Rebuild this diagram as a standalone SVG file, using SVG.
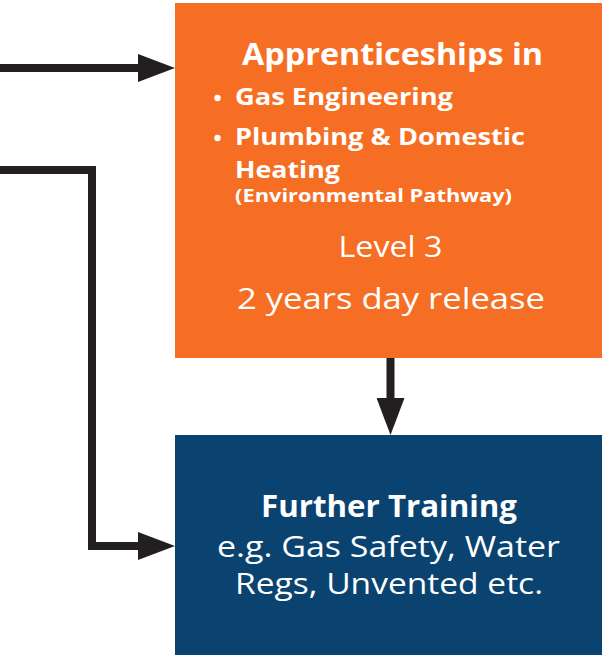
<svg xmlns="http://www.w3.org/2000/svg" width="602" height="655" viewBox="0 0 602 655">
<style>
.conn{fill:none;stroke:#231F20;stroke-width:8;stroke-linejoin:miter}
.t{font-family:"Open Sans","Liberation Sans",sans-serif;fill:#FFFFFF;text-anchor:middle}
.tl{font-family:"Open Sans","Liberation Sans",sans-serif;fill:#FFFFFF}
.b{font-weight:700}
.r{font-weight:400}
</style>
<defs>
<marker id="ah" viewBox="0 0 37 28" refX="2" refY="14" markerWidth="37" markerHeight="28" markerUnits="userSpaceOnUse" orient="auto">
<path d="M0,0 L37,14 L0,28 Z" fill="#231F20"/>
</marker>
</defs>
<g id="apprenticeships">
<rect x="175" y="3" width="427" height="355" fill="#F56E23"/>
<text class="t b" x="392.5" y="65" font-size="30" textLength="301" lengthAdjust="spacingAndGlyphs">Apprenticeships in</text>
<circle cx="217.5" cy="98" r="3.2" fill="#FFFFFF"/>
<text class="tl b" x="235" y="105" font-size="24" textLength="218" lengthAdjust="spacingAndGlyphs">Gas Engineering</text>
<circle cx="217.5" cy="138" r="3.2" fill="#FFFFFF"/>
<text class="tl b" x="235" y="145" font-size="24" textLength="290" lengthAdjust="spacingAndGlyphs">Plumbing &amp; Domestic</text>
<text class="tl b" x="235" y="178" font-size="24" textLength="105" lengthAdjust="spacingAndGlyphs">Heating</text>
<text class="tl b" x="235" y="202" font-size="17" textLength="277" lengthAdjust="spacingAndGlyphs">(Environmental Pathway)</text>
<text class="t r" x="390.5" y="257" font-size="29" textLength="104" lengthAdjust="spacingAndGlyphs">Level 3</text>
<text class="t r" x="391" y="309" font-size="29" textLength="308" lengthAdjust="spacingAndGlyphs">2 years day release</text>
</g>
<g id="further-training">
<rect x="175" y="435" width="427" height="220" fill="#0A4370"/>
<text class="t b" x="389" y="517" font-size="30" textLength="256" lengthAdjust="spacingAndGlyphs">Further Training</text>
<text class="t r" x="388.5" y="557" font-size="29" textLength="343" lengthAdjust="spacingAndGlyphs">e.g. Gas Safety, Water</text>
<text class="t r" x="389" y="594" font-size="29" textLength="308" lengthAdjust="spacingAndGlyphs">Regs, Unvented etc.</text>
</g>
<g id="connectors">
<path class="conn" d="M0,68 H140" marker-end="url(#ah)"/>
<path class="conn" d="M0,170 H92 V546 H140" marker-end="url(#ah)"/>
<path class="conn" d="M390.5,358 V400" marker-end="url(#ah)"/>
</g>
</svg>
